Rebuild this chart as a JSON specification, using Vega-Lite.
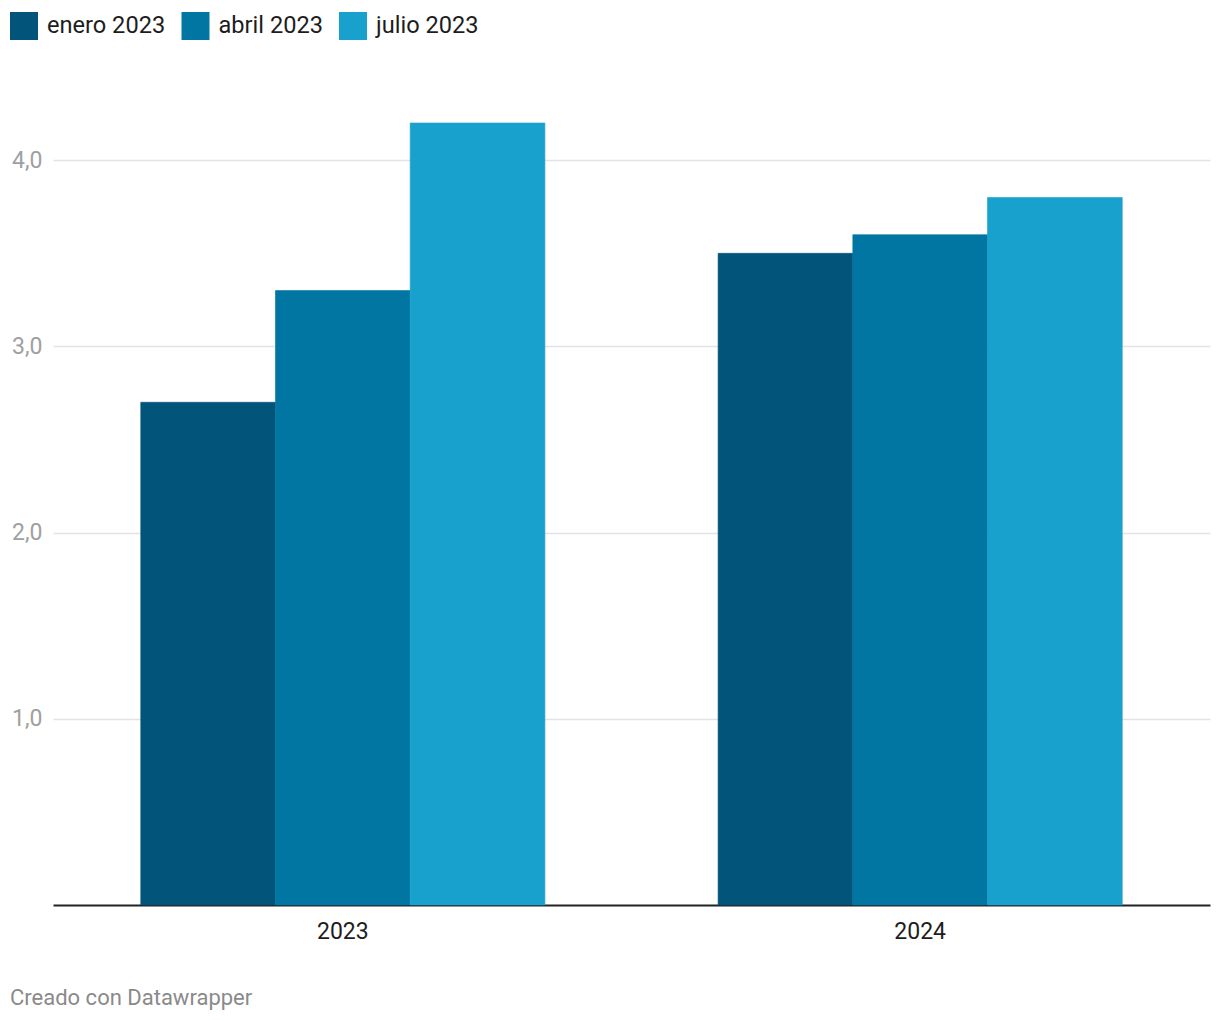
{
  "$schema": "https://vega.github.io/schema/vega-lite/v6.json",
  "width": 1157,
  "height": 782,
  "padding": {"left": 10, "top": 12, "right": 10, "bottom": 10},
  "background": "white",
  "data": {
    "values": [
      {"año": "2023", "serie": "enero 2023", "valor": 2.7},
      {"año": "2023", "serie": "abril 2023", "valor": 3.3},
      {"año": "2023", "serie": "julio 2023", "valor": 4.2},
      {"año": "2024", "serie": "enero 2023", "valor": 3.5},
      {"año": "2024", "serie": "abril 2023", "valor": 3.6},
      {"año": "2024", "serie": "julio 2023", "valor": 3.8}
    ]
  },
  "mark": {"type": "bar", "strokeWidth": 0.6},
  "encoding": {
    "x": {
      "field": "año",
      "type": "nominal",
      "scale": {"paddingInner": 0.3, "paddingOuter": 0.152},
      "axis": {
        "title": null,
        "labelAngle": 0,
        "labelFontSize": 23,
        "labelColor": "#1d1d1d",
        "labelPadding": 15,
        "ticks": false,
        "domainColor": "#222222",
        "domainWidth": 2,
        "grid": false
      }
    },
    "xOffset": {
      "field": "serie",
      "type": "nominal",
      "sort": ["enero 2023", "abril 2023", "julio 2023"],
      "scale": {"paddingInner": 0, "paddingOuter": 0}
    },
    "y": {
      "field": "valor",
      "type": "quantitative",
      "scale": {"domain": [0, 4.2], "nice": false},
      "axis": {
        "title": null,
        "values": [1, 2, 3, 4],
        "labelExpr": "replace(format(datum.value, '.1f'), '.', ',')",
        "labelFontSize": 23,
        "labelColor": "#a0a0a0",
        "labelPadding": 11,
        "ticks": false,
        "domain": false,
        "gridColor": "#e3e3e3",
        "gridWidth": 1.5
      }
    },
    "color": {
      "field": "serie",
      "type": "nominal",
      "scale": {
        "domain": ["enero 2023", "abril 2023", "julio 2023"],
        "range": ["#02547a", "#0176a2", "#19a1cd"]
      },
      "legend": {
        "title": null,
        "orient": "none",
        "direction": "horizontal",
        "legendX": -43,
        "legendY": -111,
        "symbolType": "square",
        "symbolSize": 784,
        "symbolStrokeWidth": 0,
        "symbolOpacity": 1,
        "labelFontSize": 23.6,
        "labelColor": "#1d1d1d",
        "labelOffset": 9,
        "columnPadding": 15.5,
        "padding": 0
      }
    },
    "stroke": {
      "field": "serie",
      "type": "nominal",
      "scale": {
        "domain": ["enero 2023", "abril 2023", "julio 2023"],
        "range": ["#02547a", "#0176a2", "#19a1cd"]
      },
      "legend": null
    }
  },
  "title": {
    "text": "Creado con Datawrapper",
    "orient": "bottom",
    "anchor": "start",
    "frame": "bounds",
    "fontSize": 22,
    "fontWeight": "normal",
    "color": "#8a8a8a",
    "offset": 45
  },
  "config": {
    "font": "Roboto",
    "view": {"stroke": null}
  }
}
